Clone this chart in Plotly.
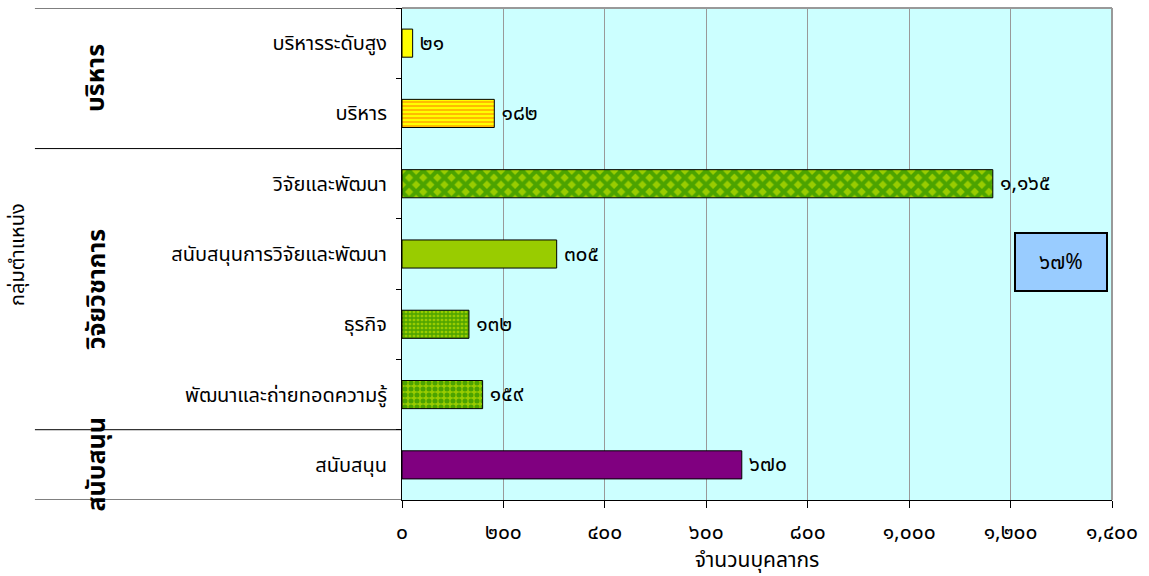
import plotly.graph_objects as go

# Personnel by position group
positions = [
    "บริหารระดับสูง",
    "บริหาร",
    "วิจัยและพัฒนา",
    "สนับสนุนการวิจัยและพัฒนา",
    "ธุรกิจ",
    "พัฒนาและถ่ายทอดความรู้",
    "สนับสนุน",
]
headcount = [21, 182, 1165, 305, 132, 159, 670]

groups = ["บริหาร", "วิจัยวิชาการ", "สนับสนุน"]
group_centers = [0.5, 3.5, 6.0]
group_bounds = [-0.5, 1.5, 5.5, 6.5]

x_ticks = [0, 200, 400, 600, 800, 1000, 1200, 1400]
share_label = "๖๗%"

# Per-bar fills: background colour, hatch shape, hatch colour, hatch size, hatch solidity
fill_bg = ["#FFFF00", "#FFFF00", "#99CC00", "#99CC00", "#99CC00", "#99CC00", "#800080"]
hatch_shape = ["", "-", "x", "", "+", ".", ""]
hatch_fg = ["#FFFF00", "#FF7A00", "#007A00", "#99CC00", "#007A00", "#007A00", "#800080"]
hatch_size = [8, 4, 10, 8, 4, 6, 8]
hatch_solid = [0.3, 0.5, 0.65, 0.3, 0.55, 0.55, 0.3]

THAI_DIGITS = str.maketrans("0123456789", "๐๑๒๓๔๕๖๗๘๙")


def thai_num(v):
    return f"{v:,}".translate(THAI_DIGITS)


FONT = "Tahoma, 'Noto Sans Thai', Loma, 'Liberation Sans', sans-serif"

fig = go.Figure()
for i, (name, val) in enumerate(zip(positions, headcount)):
    fig.add_trace(
        go.Bar(
            x=[val],
            y=[name],
            orientation="h",
            width=0.4,
            marker=dict(
                color=fill_bg[i],
                line=dict(color="#000000", width=1),
                pattern=dict(
                    shape=hatch_shape[i],
                    fgcolor=hatch_fg[i],
                    size=hatch_size[i],
                    solidity=hatch_solid[i],
                    fillmode="overlay",
                ),
            ),
            text=["\u2009" + thai_num(val)],
            textposition="outside",
            constraintext="none",
            textfont=dict(size=21, color="#000000", family=FONT),
            cliponaxis=False,
            hoverinfo="x+y",
        )
    )

shapes = []
# group separators in the label panel
for b in group_bounds:
    shapes.append(dict(type="line", xref="paper", yref="y", x0=-0.517, x1=0, y0=b, y1=b,
                       line=dict(color="#000000", width=1)))
# plot-area frame (top and right)
shapes.append(dict(type="line", xref="paper", yref="paper", x0=0, x1=1, y0=1, y1=1,
                   line=dict(color="#999999", width=2)))
shapes.append(dict(type="line", xref="paper", yref="paper", x0=1, x1=1, y0=0, y1=1,
                   line=dict(color="#999999", width=2)))

annotations = []
for g, c in zip(groups, group_centers):
    annotations.append(dict(text=f"<b>{g}</b>", xref="paper", yref="y", x=-0.43, y=c,
                            xanchor="center", yanchor="middle",
                            textangle=-90, showarrow=False,
                            font=dict(size=25, color="#000000", family=FONT)))
annotations.append(dict(text="กลุ่มตำแหน่ง", xref="paper", yref="paper", x=-0.541, y=0.5,
                        xanchor="center", yanchor="middle",
                        textangle=-90, showarrow=False,
                        font=dict(size=20, color="#000000", family=FONT)))
annotations.append(dict(text=share_label, xref="paper", yref="paper", x=0.928, y=0.484,
                        xanchor="center", yanchor="middle",
                        showarrow=False, width=88, height=54, bgcolor="#99CCFF",
                        bordercolor="#000000", borderwidth=2,
                        font=dict(size=21, color="#000000", family=FONT)))

fig.update_layout(
    width=1149,
    height=576,
    margin=dict(l=402, r=37, t=8, b=76),
    paper_bgcolor="#FFFFFF",
    plot_bgcolor="#CCFFFF",
    showlegend=False,
    barmode="overlay",
    font=dict(family=FONT, size=18, color="#000000"),
    shapes=shapes,
    annotations=annotations,
    xaxis=dict(
        range=[0, 1400],
        tickvals=x_ticks,
        ticktext=[thai_num(v) for v in x_ticks],
        showgrid=True,
        gridcolor="#999999",
        gridwidth=1,
        showline=True,
        linecolor="#000000",
        linewidth=1,
        ticks="outside",
        ticklen=7,
        tickcolor="#000000",
        tickfont=dict(size=21),
        ticklabelstandoff=6,
        zeroline=False,
        automargin=False,
        title=dict(text="จำนวนบุคลากร", font=dict(size=21), standoff=12),
    ),
    yaxis=dict(
        categoryorder="array",
        categoryarray=positions,
        range=[6.5, -0.5],
        showgrid=False,
        showline=True,
        linecolor="#000000",
        linewidth=1,
        ticks="outside",
        ticklen=5,
        tickcolor="#000000",
        tickson="boundaries",
        ticklabelstandoff=10,
        tickfont=dict(size=20),
        zeroline=False,
        automargin=False,
    ),
)

fig.write_html("out.html")
